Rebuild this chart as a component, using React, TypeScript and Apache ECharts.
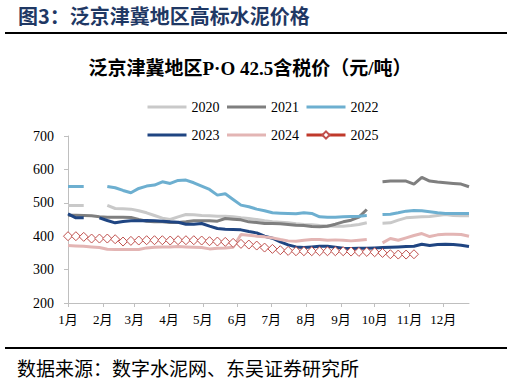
import React, { useEffect, useRef } from "react";
import * as echarts from "echarts";

// Weekly observations (week index 0..51), null = no data
const weeks: number[] = Array.from({ length: 52 }, (_, i) => i);
const DAYS_PER_WEEK = 7;

const s2020: (number | null)[] = [
  492, 492, 492, null, null, 492, 483, 482, 481, 476, 470, 462, 454, 450, 458, 465, 464, 462, 461, 460,
  460, 458, 455, 453, 450, 446, 443, 442, 440, 437, 435, 434, 432, 431, 430, 430, 432, 435, 440, null,
  439, 440, 448, 455, 457, 458, 459, 462, 465, 462, 461, 461,
];
const s2021: (number | null)[] = [
  463, 463, 462, 461, 458, 457, 457, 457, 456, 450, 445, 443, 443, 441, 441, 443, 446, 446, 446, 445,
  453, 451, 449, 443, 441, 438, 438, 437, 435, 433, 432, 429, 428, 430, 436, 443, 448, 457, 480, null,
  563, 565, 565, 565, 556, 576, 565, 562, 560, 558, 556, 548,
];
const s2022: (number | null)[] = [
  549, 549, 549, null, null, 549, 545, 537, 530, 543, 550, 553, 563, 558, 567, 568, 560, 550, 540, 523,
  527, 510, 493, 488, 481, 476, 470, 469, 468, 467, 470, 468, 458, 457, 457, 458, 459, 460, 462, null,
  465, 466, 470, 475, 477, 476, 473, 470, 468, 468, 468, 468,
];
const s2023: (number | null)[] = [
  467, 455, 455, null, 455, 447, 440, 444, 446, 446, 447, 446, 445, 443, 442, 436, 436, 438, 430, 423,
  421, 420, 419, 414, 410, 400, 394, 383, 374, 368, 366, 368, 370, 370, 367, 364, 363, 364, 364, 365,
  366, 367, 368, 369, 370, 376, 372, 375, 376, 375, 373, 369,
];
const s2024: (number | null)[] = [
  372, 371, 370, 368, 366, 361, 360, 360, 360, 360, 365, 367, 368, 368, 369, 368, 367, 366, 362, 364,
  365, 367, 405, 403, 400, 398, 395, 390, 386, 385, 388, 390, 390, 388, 389, 388, 386, 388, 390, null,
  380, 393, 388, 395, 402, 408, 399, 404, 406, 406, 405, 400,
];
const s2025: (number | null)[] = [
  400, 400, 398, 393, 393, 393, 391, 384, 386, 387, 388, 388, 388, 387, 388, 388, 388, 387, 385, 384,
  383, 380, 377, 375, 372, 366, 362, 358, 356, 355, 355, 355, 355, 355, 355, 355, 354, 353, 353, 352,
  350, 346, 345, 345, 346,
];

const seriesNames = ["2020", "2021", "2022", "2023", "2024", "2025"];
const seriesColors = ["#C9C9C9", "#7F7F7F", "#6DAFD0", "#1F4582", "#E3B5B4", "#C0504D"];

const monthStartDays = [0, 31, 59, 90, 120, 151, 181, 212, 243, 273, 304, 334];
const monthLabels = ["1月", "2月", "3月", "4月", "5月", "6月", "7月", "8月", "9月", "10月", "11月", "12月"];

const yTicks = { min: 200, max: 700, interval: 100 };

const FONT = "'Liberation Serif', 'Noto Sans CJK SC', serif";
const CJK = "'Noto Sans CJK SC', 'Liberation Serif', sans-serif";

function toPairs(arr: (number | null)[]) {
  return arr.map((v, i) => [weeks[i] * DAYS_PER_WEEK, v === null ? "-" : v]);
}

export default function App() {
  const ref = useRef<HTMLDivElement>(null);
  useEffect(() => {
    if (!ref.current) return;
    const chart = echarts.init(ref.current, null, { renderer: "svg" });
    const allData = [s2020, s2021, s2022, s2023, s2024, s2025];
    const series: any[] = allData.map((d, i) => {
      const isDiamond = i === 5;
      return {
        name: seriesNames[i],
        type: "line",
        data: toPairs(d),
        connectNulls: false,
        symbol: isDiamond ? "diamond" : "none",
        symbolSize: isDiamond ? 9 : 0,
        showAllSymbol: true,
        lineStyle: { color: isDiamond ? "#C0392B" : seriesColors[i], width: isDiamond ? 1 : 3 },
        itemStyle: isDiamond
          ? { color: "#FFFFFF", borderColor: seriesColors[i], borderWidth: 1 }
          : { color: seriesColors[i] },
        emphasis: { disabled: true },
        z: 2 + i,
      };
    });
    const legendItem = (name: string) =>
      name === "2025"
        ? { name, lineStyle: { width: 3, color: "#C0392B" } }
        : { name, itemStyle: { opacity: 0 }, lineStyle: { width: 3 } };
    const legendBase = {
      itemWidth: 39,
      itemHeight: 9,
      itemGap: 6,
      left: 146,
      padding: 0,
      orient: "horizontal",
      textStyle: { fontFamily: FONT, fontSize: 14, color: "#000" },
      selectedMode: false,
    };
    chart.setOption({
      animation: false,
      backgroundColor: "#FFFFFF",
      grid: { left: 68, right: 43, top: 136, bottom: 79 },
      legend: [
        { ...legendBase, top: 100, data: seriesNames.slice(0, 3).map(legendItem) },
        { ...legendBase, top: 128, data: seriesNames.slice(3).map(legendItem) },
      ],
      xAxis: {
        type: "value",
        min: 0,
        max: (s2020.length - 1) * DAYS_PER_WEEK,
        splitLine: { show: false },
        axisLine: { lineStyle: { color: "#BFBFBF", width: 1 } },
        axisTick: { show: true, length: 4, customValues: monthStartDays, lineStyle: { color: "#BFBFBF" } },
        axisLabel: {
          customValues: monthStartDays,
          formatter: (v: number) => monthLabels[monthStartDays.indexOf(v)] ?? "",
          fontFamily: FONT,
          fontSize: 13,
          color: "#000",
          margin: 10,
        },
      },
      yAxis: {
        type: "value",
        min: yTicks.min,
        max: yTicks.max,
        interval: yTicks.interval,
        splitLine: { show: false },
        axisLine: { show: true, lineStyle: { color: "#BFBFBF", width: 1 } },
        axisTick: { show: true, length: 4, lineStyle: { color: "#BFBFBF" } },
        axisLabel: { fontFamily: FONT, fontSize: 14, color: "#000", margin: 14 },
      },
      graphic: [
        {
          type: "text",
          left: 18,
          top: 5,
          style: {
            text: "图3：泛京津冀地区高标水泥价格",
            fontFamily: CJK,
            fontSize: 20,
            fontWeight: "bold",
            fill: "#1F3864",
          },
        },
        {
          type: "line",
          shape: { x1: 5, y1: 33, x2: 507, y2: 33 },
          style: { stroke: "#000", lineWidth: 2 },
        },
        {
          type: "text",
          x: 250,
          y: 68,
          style: {
            text: "泛京津冀地区P·O 42.5含税价（元/吨）",
            fontFamily: FONT,
            fontSize: 19,
            fontWeight: "bold",
            fill: "#000",
            align: "center",
            verticalAlign: "middle",
          },
        },
        {
          type: "line",
          shape: { x1: 5, y1: 348, x2: 507, y2: 348 },
          style: { stroke: "#000", lineWidth: 2 },
        },
        {
          type: "text",
          x: 17,
          y: 367,
          style: {
            text: "数据来源：数字水泥网、东吴证券研究所",
            fontFamily: CJK,
            fontSize: 19,
            fill: "#000",
            verticalAlign: "middle",
          },
        },
      ],
      series,
    });
    return () => chart.dispose();
  }, []);
  return (
    <div
      ref={ref}
      style={{ position: "fixed", left: 0, top: 0, width: 512, height: 382, background: "#fff" }}
    />
  );
}
